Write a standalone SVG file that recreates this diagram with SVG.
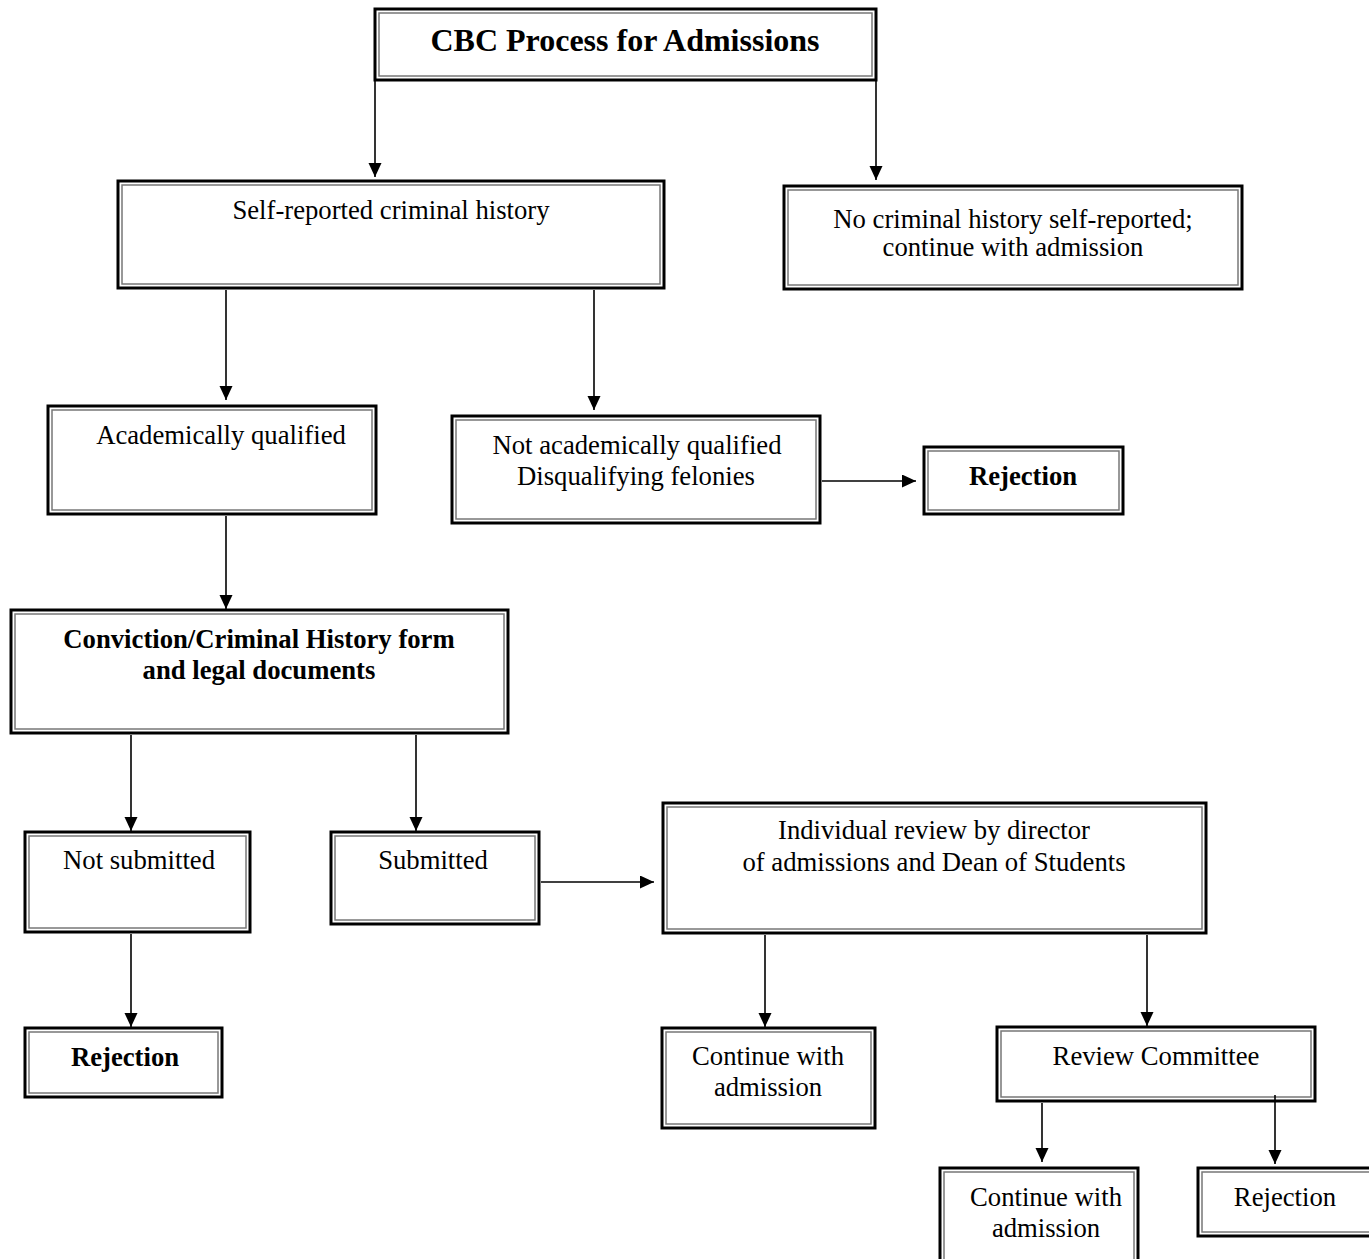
<svg xmlns="http://www.w3.org/2000/svg" width="1369" height="1259" viewBox="0 0 1369 1259">
<style>
.o{fill:#fff;stroke:#000;stroke-width:3}
.i{fill:none;stroke:#777;stroke-width:1.5}
text{font-family:"Liberation Serif","Times New Roman",serif;font-size:26.7px;fill:#000;text-anchor:middle}
.b{font-weight:bold}
.t{font-size:32px;font-weight:bold}
.c{stroke:#000;stroke-width:1.6;fill:none;marker-end:url(#ah)}
</style>
<defs>
<marker id="ah" markerUnits="userSpaceOnUse" markerWidth="15" markerHeight="15" refX="14" refY="6.5" orient="auto">
<path d="M0,0 L14,6.5 L0,13 Z" fill="#000"/>
</marker>
</defs>
<g id="title"><rect class="o" x="375" y="9" width="501" height="71"/><rect class="i" x="379" y="13" width="493" height="63"/><text class="t" x="625" y="51">CBC Process for Admissions</text></g>
<g id="self-reported"><rect class="o" x="118" y="181" width="546" height="107"/><rect class="i" x="122" y="185" width="538" height="99"/><text x="391" y="219">Self-reported criminal history</text></g>
<g id="no-history"><rect class="o" x="784" y="186" width="458" height="103"/><rect class="i" x="788" y="190" width="450" height="95"/><text x="1013" y="228">No criminal history self-reported;</text><text x="1013" y="256">continue with admission</text></g>
<g id="acad-qualified"><rect class="o" x="48" y="406" width="328" height="108"/><rect class="i" x="52" y="410" width="320" height="100"/><text x="221" y="444">Academically qualified</text></g>
<g id="not-qualified"><rect class="o" x="452" y="416" width="368" height="107"/><rect class="i" x="456" y="420" width="360" height="99"/><text x="637" y="454">Not academically qualified</text><text x="636" y="485">Disqualifying felonies</text></g>
<g id="rejection-1"><rect class="o" x="924" y="447" width="199" height="67"/><rect class="i" x="928" y="451" width="191" height="59"/><text class="b" x="1023" y="485">Rejection</text></g>
<g id="conviction-form"><rect class="o" x="11" y="610" width="497" height="123"/><rect class="i" x="15" y="614" width="489" height="115"/><text class="b" x="259" y="648">Conviction/Criminal History form</text><text class="b" x="259" y="679">and legal documents</text></g>
<g id="not-submitted"><rect class="o" x="25" y="832" width="225" height="100"/><rect class="i" x="29" y="836" width="217" height="92"/><text x="139" y="869">Not submitted</text></g>
<g id="submitted"><rect class="o" x="331" y="832" width="208" height="92"/><rect class="i" x="335" y="836" width="200" height="84"/><text x="433" y="869">Submitted</text></g>
<g id="individual-review"><rect class="o" x="663" y="803" width="543" height="130"/><rect class="i" x="667" y="807" width="535" height="122"/><text x="934" y="839">Individual review by director</text><text x="934" y="871">of admissions and Dean of Students</text></g>
<g id="rejection-2"><rect class="o" x="25" y="1028" width="197" height="69"/><rect class="i" x="29" y="1032" width="189" height="61"/><text class="b" x="125" y="1066">Rejection</text></g>
<g id="continue-1"><rect class="o" x="662" y="1028" width="213" height="100"/><rect class="i" x="666" y="1032" width="205" height="92"/><text x="768" y="1065">Continue with</text><text x="768" y="1096">admission</text></g>
<g id="review-committee"><rect class="o" x="997" y="1027" width="318" height="74"/><rect class="i" x="1001" y="1031" width="310" height="66"/><text x="1156" y="1065">Review Committee</text></g>
<g id="continue-2"><rect class="o" x="940" y="1168" width="198" height="100"/><rect class="i" x="944" y="1172" width="190" height="92"/><text x="1046" y="1206">Continue with</text><text x="1046" y="1237">admission</text></g>
<g id="rejection-3"><rect class="o" x="1198" y="1168" width="180" height="68"/><rect class="i" x="1202" y="1172" width="172" height="60"/><text x="1285" y="1206">Rejection</text></g>
<g id="connectors">
<line class="c" x1="375" y1="81" x2="375" y2="177"/>
<line class="c" x1="876" y1="81" x2="876" y2="180"/>
<line class="c" x1="226" y1="290" x2="226" y2="400"/>
<line class="c" x1="594" y1="290" x2="594" y2="410"/>
<line class="c" x1="822" y1="481" x2="916" y2="481"/>
<line class="c" x1="226" y1="516" x2="226" y2="609"/>
<line class="c" x1="131" y1="735" x2="131" y2="831"/>
<line class="c" x1="416" y1="735" x2="416" y2="831"/>
<line class="c" x1="541" y1="882" x2="654" y2="882"/>
<line class="c" x1="131" y1="934" x2="131" y2="1027"/>
<line class="c" x1="765" y1="935" x2="765" y2="1027"/>
<line class="c" x1="1147" y1="935" x2="1147" y2="1026"/>
<line class="c" x1="1042" y1="1103" x2="1042" y2="1162"/>
<line class="c" x1="1275" y1="1095" x2="1275" y2="1164"/>
</g>
</svg>
